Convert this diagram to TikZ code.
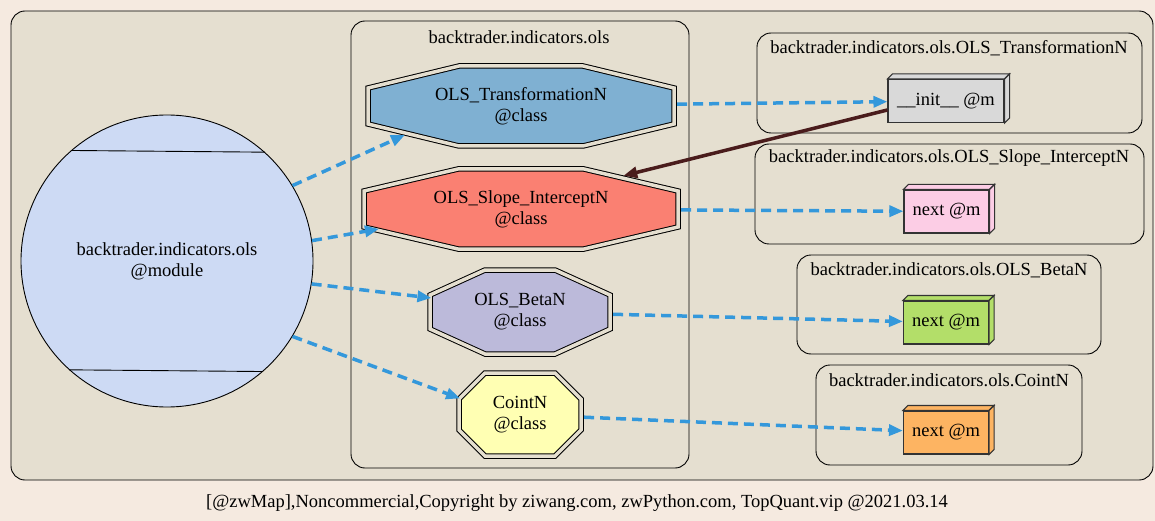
\documentclass[tikz,border=0pt]{standalone}
\usepackage{fontspec}
\setmainfont{Liberation Serif}
\usetikzlibrary{arrows.meta,shapes.geometric}

\definecolor{pagebg}{HTML}{F5EAE0}
\definecolor{clusterbg}{HTML}{E5DFD0}
\definecolor{modfill}{HTML}{CDDAF4}
\definecolor{trnfill}{HTML}{7FB0D2}
\definecolor{slopefill}{HTML}{FA8072}
\definecolor{betafill}{HTML}{BCBADA}
\definecolor{cointfill}{HTML}{FFFFB3}
\definecolor{initfill}{HTML}{D9D9D9}
\definecolor{nextafill}{HTML}{FCCDE5}
\definecolor{nextbfill}{HTML}{B3DE69}
\definecolor{nextcfill}{HTML}{FDB462}
\definecolor{depblue}{HTML}{3498DB}
\definecolor{callbrown}{HTML}{4A1C1C}

\tikzset{
  lbl/.style={font=\fontsize{18.5}{21}\selectfont},
  cluster/.style={draw=black, fill=clusterbg, rounded corners=14pt, line width=0.9pt},
  octa/.style={draw=black, line width=1pt, double=clusterbg, double distance=3.5pt},
  clsshape/.style={ellipse, inner sep=0pt, align=center, lbl},
  mbox/.style={draw=black!80, line width=1.1pt, minimum height=43pt, inner sep=0pt, lbl},
  face/.style={draw=black!80, line width=1.1pt},
  dep/.style={depblue, line width=3.5pt, dash pattern=on 10pt off 6pt,
    -{Triangle[length=14pt,width=11pt]}},
  call/.style={callbrown, line width=3.5pt, -{Triangle[length=14pt,width=11pt]}},
}

% name, centre, half width, half height, chamfer x, chamfer y, fill, text
\newcommand\classnode[8]{%
  \draw[octa, fill=#7, shift={(#2)}] (-#3+#5,-#4) -- (#3-#5,-#4) -- (#3,-#4+#6)
    -- (#3,#4-#6) -- (#3-#5,#4) -- (-#3+#5,#4) -- (-#3,#4-#6) -- (-#3,-#4+#6) -- cycle;
  \node[clsshape, minimum width=2*#3+6pt, minimum height=2*#4+6pt] (#1) at (#2) {#8};
}
% top and side of a method box
\newcommand\boxfaces[2]{%
  \draw[face, fill=#2] (#1.north west) -- ([shift={(5,-5)}]#1.north west)
    -- ([shift={(5,-5)}]#1.north east) -- (#1.north east) -- cycle;
  \draw[face, fill=#2] (#1.north east) -- ([shift={(5,-5)}]#1.north east)
    -- ([shift={(5,-5)}]#1.south east) -- (#1.south east) -- cycle;
}

\begin{document}
\begin{tikzpicture}[x=1pt, y=-1pt]
  \fill[pagebg] (0,0) rectangle (1155,521);
  \useasboundingbox (0,0) rectangle (1155,521);

  % clusters
  \draw[cluster] (11,11) rectangle (1153,480);
  \draw[cluster] (351,21) rectangle (689,468);
  \node[lbl] (ttl-ols) at (519,37) {backtrader.indicators.ols};
  \draw[cluster] (757,33) rectangle (1142,133);
  \node[lbl] (ttl-trn) at (949,48) {backtrader.indicators.ols.OLS\_TransformationN};
  \draw[cluster] (755,144) rectangle (1144,244);
  \node[lbl] (ttl-slope) at (949,158) {backtrader.indicators.ols.OLS\_Slope\_InterceptN};
  \draw[cluster] (797,255) rectangle (1101,354);
  \node[lbl] (ttl-beta) at (949,270) {backtrader.indicators.ols.OLS\_BetaN};
  \draw[cluster] (816,365) rectangle (1082,465);
  \node[lbl] (ttl-coint) at (949,380) {backtrader.indicators.ols.CointN};

  % module
  \node[circle, draw, fill=modfill, line width=0.9pt, minimum size=292pt, inner sep=0pt,
    align=center, lbl] (mod) at (167,261) {backtrader.indicators.ols\\@module};
  \draw[line width=0.9pt] (mod.131.7) -- (mod.48.3);
  \draw[line width=0.9pt] (mod.228.3) -- (mod.311.7);

  % classes
  \classnode{trn}{521,106}{153}{40}{91}{22}{trnfill}{OLS\_TransformationN\\@class}
  \classnode{slope}{521,209}{157}{40}{94}{22}{slopefill}{OLS\_Slope\_InterceptN\\@class}
  \classnode{beta}{520,312}{90}{42}{55}{25}{betafill}{OLS\_BetaN\\@class}
  \classnode{coint}{520,414.5}{61}{41.5}{26}{26}{cointfill}{CointN\\@class}

  % methods
  \node[mbox, fill=initfill, minimum width=116pt] (init) at (946,101) {\_\_init\_\_ @m};
  \boxfaces{init}{initfill}
  \node[mbox, fill=nextafill, minimum width=85pt] (nxa) at (946.5,211.5) {next @m};
  \boxfaces{nxa}{nextafill}
  \node[mbox, fill=nextbfill, minimum width=85pt] (nxb) at (946,322.5) {next @m};
  \boxfaces{nxb}{nextbfill}
  \node[mbox, fill=nextcfill, minimum width=85pt] (nxc) at (946,432.5) {next @m};
  \boxfaces{nxc}{nextcfill}

  % edges
  \foreach \a/\b in {31/trn.194, 8/slope.188, 351/beta.171, 329/coint.165}
    \draw[dep] (mod.\a) -- (\b);
  \draw[dep] (trn) -- (init);
  \draw[dep] (slope) -- (nxa);
  \draw[dep] (beta) -- (nxb);
  \draw[dep] (coint) -- (nxc);
  \draw[call] ([yshift=-9pt]init.west) -- (slope.18);

  \node[lbl] (foot) at (577,503)
    {[@zwMap],Noncommercial,Copyright by ziwang.com, zwPython.com, TopQuant.vip @2021.03.14};
\end{tikzpicture}
\end{document}
